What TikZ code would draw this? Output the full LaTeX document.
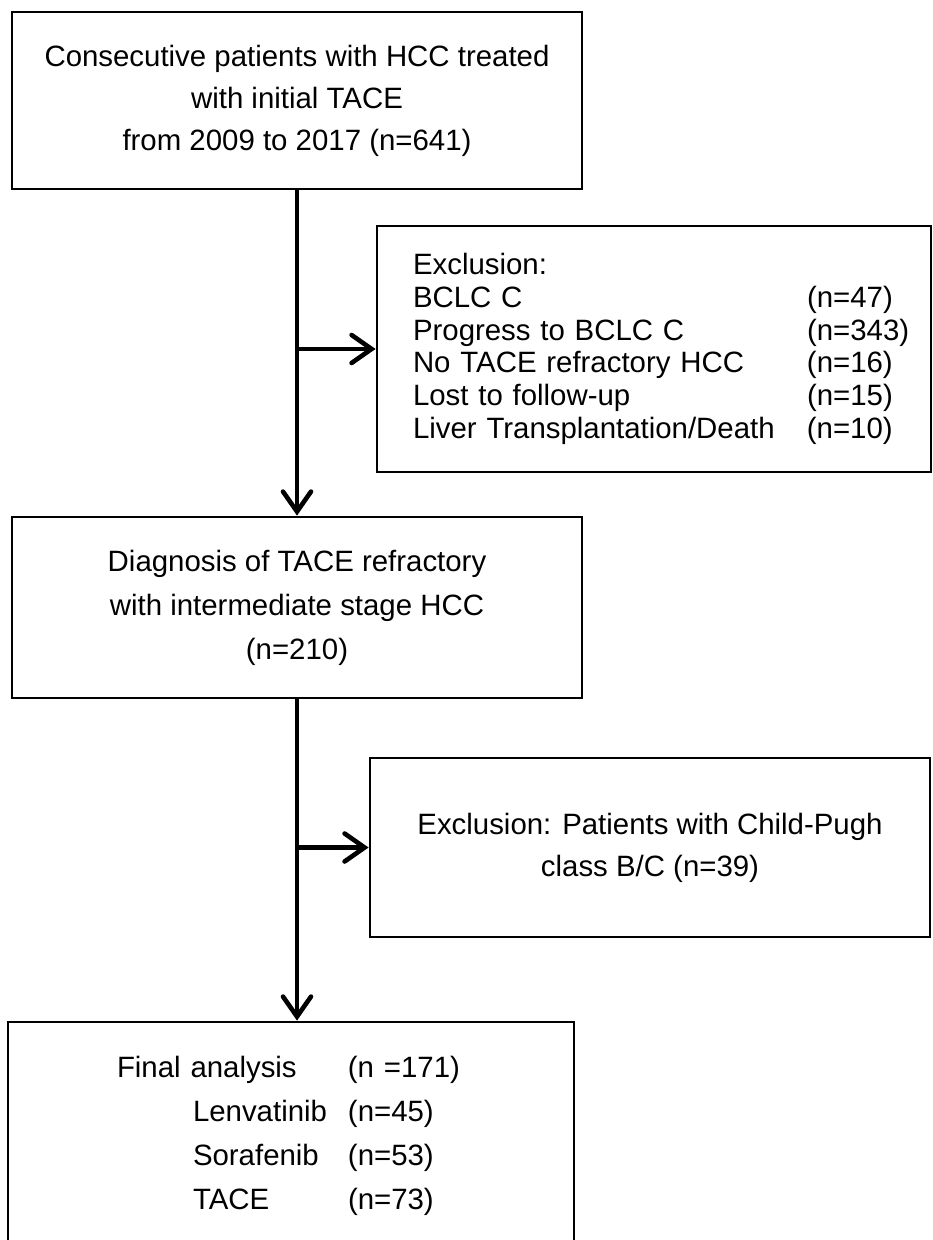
\documentclass[tikz,border=0pt]{standalone}
\usepackage{fontspec}
\setmainfont{Liberation Sans}
\usetikzlibrary{arrows.meta}
\newcommand{\exrow}[2]{\makebox[197pt][l]{#1}#2}
\begin{document}
\begin{tikzpicture}[x=0.5pt, y=-0.5pt,
  box/.style={draw, line width=1.4pt, inner sep=0pt, font=\fontsize{14.7pt}{21pt}\selectfont},
  arr/.style={line width=2.3pt, -{Straight Barb[length=10pt, width=14pt, line cap=round]}}]
\useasboundingbox (0,0) rectangle (932,1240);
\node[box, minimum width=285pt, minimum height=88.5pt, align=center] (start) at (297,100.5) {Consecutive patients with HCC treated\\with initial TACE\\from 2009 to 2017 (n=641)};
\node[box, minimum width=277pt, minimum height=123pt, text width=241pt, align=left, font=\fontsize{14.7pt}{16.4pt}\selectfont] (excl1) at (654,349) {Exclusion:\\\exrow{BCLC C}{(n=47)}\\\exrow{Progress to BCLC C}{(n=343)}\\\exrow{No TACE refractory HCC}{(n=16)}\\\exrow{Lost to follow-up}{(n=15)}\\\exrow{Liver Transplantation/Death}{(n=10)}};
\node[box, minimum width=285pt, minimum height=90.5pt, align=center, font=\fontsize{14.7pt}{22pt}\selectfont] (diag) at (297,607.5) {Diagnosis of TACE refractory\\with intermediate stage HCC\\(n=210)};
\node[box, minimum width=280pt, minimum height=89.5pt, align=center] (excl2) at (650,847.5) {Exclusion: Patients with Child-Pugh\\class B/C (n=39)};
\node[box, minimum width=283pt, minimum height=114pt, text width=174pt, align=left, font=\fontsize{14.7pt}{22pt}\selectfont] (final) at (291,1136) {\makebox[115.5pt][l]{Final analysis}(n =171)\\\hspace*{38pt}\makebox[77.5pt][l]{Lenvatinib}(n=45)\\\hspace*{38pt}\makebox[77.5pt][l]{Sorafenib}(n=53)\\\hspace*{38pt}\makebox[77.5pt][l]{TACE}(n=73)};
\coordinate (j1) at (start.south |- excl1.west);
\coordinate (j2) at (diag.south |- excl2.west);
\coordinate (k) at (diag.south |- final.north);
\draw[arr] (start) -- (diag);
\draw[arr] (j1) -- (excl1);
\draw[arr] (diag) -- (k);
\draw[arr] (j2) -- (excl2);
\end{tikzpicture}
\end{document}
